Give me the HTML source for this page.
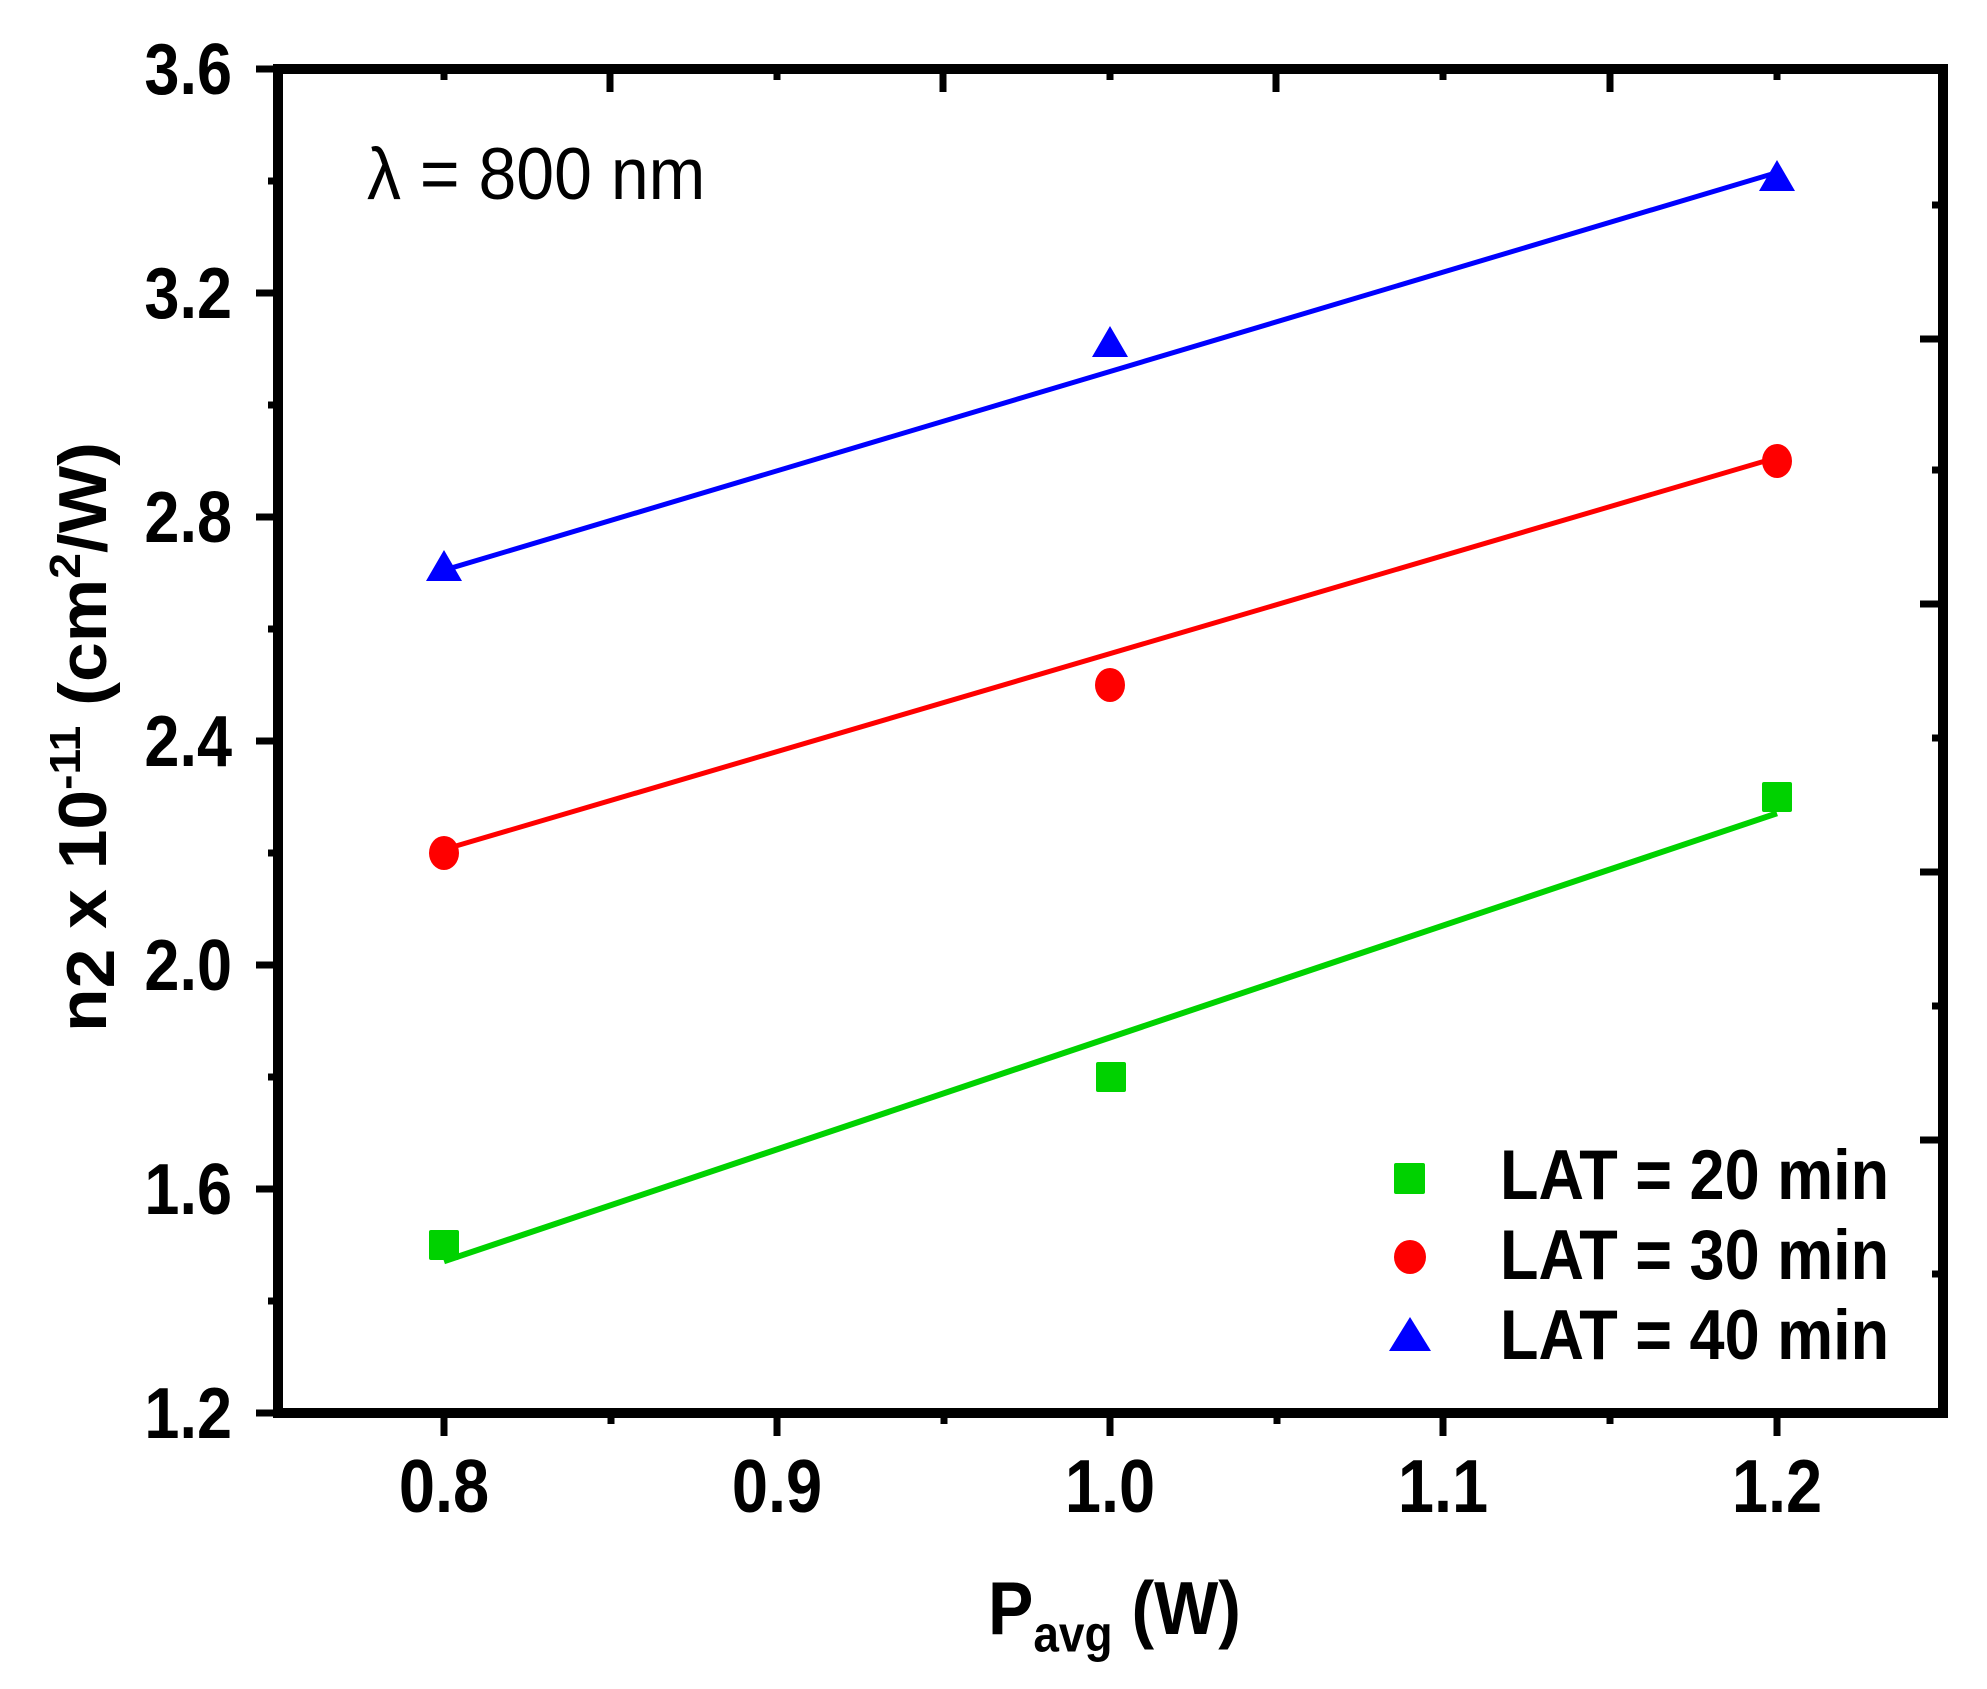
<!DOCTYPE html>
<html><head><meta charset="utf-8"><style>
html,body{margin:0;padding:0;background:#fff;}
svg{display:block;}
text{font-family:"Liberation Sans",Arial,sans-serif;}
</style></head><body>
<svg width="1987" height="1689" viewBox="0 0 1987 1689" xmlns="http://www.w3.org/2000/svg">
<rect width="1987" height="1689" fill="#fff"/>
<g stroke="#000" stroke-width="7">
<line x1="256" y1="69" x2="278" y2="69"/>
<line x1="256" y1="293" x2="278" y2="293"/>
<line x1="256" y1="517" x2="278" y2="517"/>
<line x1="256" y1="741" x2="278" y2="741"/>
<line x1="256" y1="965" x2="278" y2="965"/>
<line x1="256" y1="1189" x2="278" y2="1189"/>
<line x1="256" y1="1413" x2="278" y2="1413"/>
<line x1="268" y1="181" x2="278" y2="181"/>
<line x1="268" y1="405" x2="278" y2="405"/>
<line x1="268" y1="629" x2="278" y2="629"/>
<line x1="268" y1="853" x2="278" y2="853"/>
<line x1="268" y1="1077" x2="278" y2="1077"/>
<line x1="268" y1="1301" x2="278" y2="1301"/>
<line x1="444" y1="1413" x2="444" y2="1436"/>
<line x1="777" y1="1413" x2="777" y2="1436"/>
<line x1="1110" y1="1413" x2="1110" y2="1436"/>
<line x1="1443" y1="1413" x2="1443" y2="1436"/>
<line x1="1777" y1="1413" x2="1777" y2="1436"/>
<line x1="611" y1="1413" x2="611" y2="1424"/>
<line x1="944" y1="1413" x2="944" y2="1424"/>
<line x1="1277" y1="1413" x2="1277" y2="1424"/>
<line x1="1610" y1="1413" x2="1610" y2="1424"/>
<line x1="610" y1="69" x2="610" y2="92"/>
<line x1="943" y1="69" x2="943" y2="92"/>
<line x1="1276" y1="69" x2="1276" y2="92"/>
<line x1="1610" y1="69" x2="1610" y2="92"/>
<line x1="444" y1="69" x2="444" y2="80"/>
<line x1="777" y1="69" x2="777" y2="80"/>
<line x1="1110" y1="69" x2="1110" y2="80"/>
<line x1="1443" y1="69" x2="1443" y2="80"/>
<line x1="1777" y1="69" x2="1777" y2="80"/>
<line x1="1920" y1="339" x2="1943" y2="339"/>
<line x1="1920" y1="604" x2="1943" y2="604"/>
<line x1="1920" y1="872" x2="1943" y2="872"/>
<line x1="1920" y1="1140" x2="1943" y2="1140"/>
<line x1="1932" y1="205" x2="1943" y2="205"/>
<line x1="1932" y1="470" x2="1943" y2="470"/>
<line x1="1932" y1="738" x2="1943" y2="738"/>
<line x1="1932" y1="1006" x2="1943" y2="1006"/>
<line x1="1932" y1="1274" x2="1943" y2="1274"/>
</g>
<rect x="278" y="69" width="1665" height="1344" fill="none" stroke="#000" stroke-width="10"/>
<g font-size="63" font-weight="bold" text-anchor="end" fill="#000">
<text transform="translate(232,94) scale(1,1.15)">3.6</text>
<text transform="translate(232,318) scale(1,1.15)">3.2</text>
<text transform="translate(232,542) scale(1,1.15)">2.8</text>
<text transform="translate(232,766) scale(1,1.15)">2.4</text>
<text transform="translate(232,990) scale(1,1.15)">2.0</text>
<text transform="translate(232,1214) scale(1,1.15)">1.6</text>
<text transform="translate(232,1438) scale(1,1.15)">1.2</text>
</g>
<g font-size="65" font-weight="bold" text-anchor="middle" fill="#000">
<text transform="translate(444,1512) scale(1,1.15)">0.8</text>
<text transform="translate(777,1512) scale(1,1.15)">0.9</text>
<text transform="translate(1110,1512) scale(1,1.15)">1.0</text>
<text transform="translate(1443,1512) scale(1,1.15)">1.1</text>
<text transform="translate(1777,1512) scale(1,1.15)">1.2</text>
</g>
<text transform="translate(988,1634) scale(1,1.1)" font-size="68" font-weight="bold">P<tspan font-size="46" dy="16">avg</tspan><tspan dy="-16"> (W)</tspan></text>
<text transform="translate(106,1032) rotate(-90) scale(1.05,1)" font-size="68" font-weight="bold">n<tspan dy="8">2</tspan><tspan dy="-8"> x 10</tspan><tspan font-size="44" dy="-26">-11</tspan><tspan dy="26"> (cm</tspan><tspan font-size="44" dy="-26">2</tspan><tspan dy="26">/W)</tspan></text>
<text transform="translate(367,199) scale(1,1.08)" font-size="68">λ = 800 nm</text>
<line x1="444" y1="1261.3" x2="1777" y2="813.3" stroke="#00d200" stroke-width="6"/>
<line x1="444" y1="849.5" x2="1777" y2="457.5" stroke="#ff0000" stroke-width="5"/>
<line x1="444" y1="570.2" x2="1777" y2="172.5" stroke="#0000ff" stroke-width="5"/>
<g fill="#00d200">
<rect x="429" y="1230" width="30" height="30" rx="2"/>
<rect x="1096" y="1062" width="30" height="30" rx="2"/>
<rect x="1762" y="782" width="30" height="30" rx="2"/>
</g>
<g fill="#ff0000">
<ellipse cx="444" cy="853" rx="15" ry="17"/>
<ellipse cx="1110" cy="685" rx="15" ry="17"/>
<ellipse cx="1777" cy="461" rx="15" ry="17"/>
</g>
<g fill="#0000ff">
<polygon points="444,550 426,581 462,581"/>
<polygon points="1110,326 1092,357 1128,357"/>
<polygon points="1777,160 1759,191 1795,191"/>
</g>
<rect x="1394" y="1163" width="31" height="31" rx="2" fill="#00d200"/>
<ellipse cx="1410" cy="1257" rx="16" ry="17" fill="#ff0000"/>
<polygon points="1410,1317 1389,1351 1431,1351" fill="#0000ff"/>
<g font-size="63" font-weight="bold" fill="#000">
<text transform="translate(1500,1199) scale(1,1.12)">LAT = 20 min</text>
<text transform="translate(1500,1279) scale(1,1.12)">LAT = 30 min</text>
<text transform="translate(1500,1359) scale(1,1.12)">LAT = 40 min</text>
</g>
</svg>
</body></html>
